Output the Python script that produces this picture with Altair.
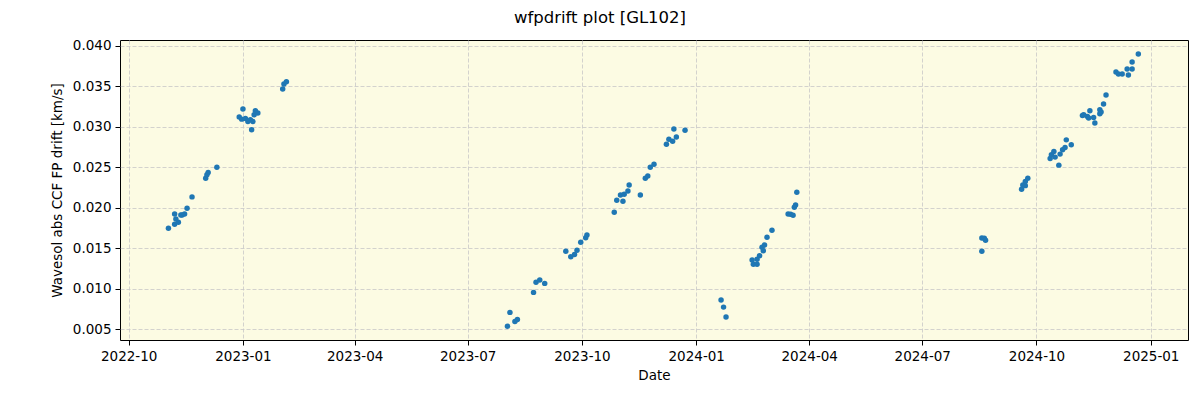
import altair as alt
import pandas as pd

dates = [
    "2022-11-02", "2022-11-07", "2022-11-07", "2022-11-08", "2022-11-10", "2022-11-12",
    "2022-11-13", "2022-11-15", "2022-11-17", "2022-11-21", "2022-12-02", "2022-12-03",
    "2022-12-04", "2022-12-11",
    "2022-12-29", "2022-12-31", "2023-01-01", "2023-01-03", "2023-01-05", "2023-01-07",
    "2023-01-08", "2023-01-09", "2023-01-10", "2023-01-11", "2023-01-13",
    "2023-02-02", "2023-02-03", "2023-02-05",
    "2023-08-02", "2023-08-04", "2023-08-08", "2023-08-10", "2023-08-23", "2023-08-25",
    "2023-08-28", "2023-09-01", "2023-09-18", "2023-09-22", "2023-09-25", "2023-09-27",
    "2023-09-30", "2023-10-04", "2023-10-05", "2023-10-27", "2023-10-29", "2023-11-01",
    "2023-11-03", "2023-11-04", "2023-11-07", "2023-11-08", "2023-11-17", "2023-11-21",
    "2023-11-23", "2023-11-25", "2023-11-28", "2023-12-08", "2023-12-10", "2023-12-13",
    "2023-12-14", "2023-12-16", "2023-12-23",
    "2024-01-21", "2024-01-23", "2024-01-25", "2024-02-15", "2024-02-16", "2024-02-19",
    "2024-02-19", "2024-02-21", "2024-02-23", "2024-02-24", "2024-02-25", "2024-02-27",
    "2024-03-02", "2024-03-15", "2024-03-17", "2024-03-19", "2024-03-20", "2024-03-21",
    "2024-03-22",
    "2024-08-18", "2024-08-18", "2024-08-20", "2024-08-21", "2024-09-19", "2024-09-20",
    "2024-09-22", "2024-09-22", "2024-09-24", "2024-10-12", "2024-10-13", "2024-10-15",
    "2024-10-16", "2024-10-19", "2024-10-20", "2024-10-22", "2024-10-24", "2024-10-25",
    "2024-10-29", "2024-11-07", "2024-11-08", "2024-11-11", "2024-11-12", "2024-11-13",
    "2024-11-16", "2024-11-17", "2024-11-21", "2024-11-21", "2024-11-22", "2024-11-24",
    "2024-11-26", "2024-12-04", "2024-12-06", "2024-12-09", "2024-12-13", "2024-12-14",
    "2024-12-17", "2024-12-17", "2024-12-22",
]
drift = [
    0.01745, 0.01922, 0.01795, 0.01860, 0.01820, 0.01910,
    0.01910, 0.01922, 0.01993, 0.02133, 0.02364, 0.02405,
    0.02433, 0.02500,
    0.03118, 0.03093, 0.03217, 0.03101, 0.03064, 0.03085,
    0.02961, 0.03064, 0.03147, 0.03196, 0.03168,
    0.03464, 0.03526, 0.03555,
    0.00537, 0.00707, 0.00595, 0.00620, 0.00954, 0.01078,
    0.01106, 0.01065, 0.01461, 0.01394, 0.01423, 0.01473,
    0.01572, 0.01629, 0.01663, 0.01943, 0.02092, 0.02157,
    0.02079, 0.02166, 0.02207, 0.02281, 0.02157, 0.02364,
    0.02392, 0.02500, 0.02537, 0.02784, 0.02846, 0.02821,
    0.02970, 0.02871, 0.02957,
    0.00859, 0.00772, 0.00649, 0.01354, 0.01300, 0.01300,
    0.01362, 0.01407, 0.01510, 0.01469, 0.01539, 0.01634,
    0.01721, 0.01922, 0.01918, 0.01906, 0.02005, 0.02033,
    0.02190,
    0.01461, 0.01625, 0.01622, 0.01597, 0.02228, 0.02281,
    0.02272, 0.02322, 0.02364, 0.02606, 0.02652, 0.02693,
    0.02624, 0.02525, 0.02661, 0.02714, 0.02742, 0.02837,
    0.02776, 0.03138, 0.03147, 0.03126, 0.03106, 0.03196,
    0.03113, 0.03044, 0.03209, 0.03159, 0.03180, 0.03279,
    0.03390, 0.03675, 0.03650, 0.03650, 0.03712, 0.03638,
    0.03712, 0.03798, 0.03897,
]

x_ticks = [(2022, 10), (2023, 1), (2023, 4), (2023, 7), (2023, 10),
           (2024, 1), (2024, 4), (2024, 7), (2024, 10), (2025, 1)]
y_ticks = [0.005, 0.010, 0.015, 0.020, 0.025, 0.030, 0.035, 0.040]

df = pd.DataFrame({"date": pd.to_datetime(dates), "drift": drift})

FONT = "DejaVu Sans"

x_axis = alt.Axis(
    values=[alt.DateTime(year=y, month=m, date=1) for y, m in x_ticks],
    format="%Y-%m", title="Date", labelFontSize=13.5, titleFontSize=13.5,
    labelFont=FONT, titleFont=FONT, labelColor="black", titleColor="black",
    titleFontWeight="normal", tickColor="black", tickSize=5, labelPadding=4,
    domain=False, gridColor="#c8c8c8", gridDash=[4, 2], gridWidth=0.8,
    labelFlush=False, titlePadding=6,
)
y_axis = alt.Axis(
    values=y_ticks, format=".3f", title="Wavesol abs CCF FP drift [km/s]",
    labelFontSize=13.5, titleFontSize=13.5, labelFont=FONT, titleFont=FONT,
    labelColor="black", titleColor="black", titleFontWeight="normal",
    tickColor="black", tickSize=5, labelPadding=4, domain=False,
    gridColor="#c8c8c8", gridDash=[4, 2], gridWidth=0.8, titlePadding=8,
)

chart = (
    alt.Chart(df)
    .mark_circle(size=30, color="#1f77b4", opacity=1)
    .encode(
        x=alt.X("date:T", axis=x_axis,
                scale=alt.Scale(domain=[alt.DateTime(year=2022, month=9, date=24),
                                        alt.DateTime(year=2025, month=1, date=31)])),
        y=alt.Y("drift:Q", axis=y_axis,
                scale=alt.Scale(domain=[0.00366, 0.0407], nice=False, zero=False)),
    )
    .properties(
        width=1068, height=300,
        autosize=alt.AutoSizeParams(type="none"),
        padding={"left": 120, "top": 40, "right": 12, "bottom": 60},
        background="white",
        title=alt.TitleParams("wfpdrift plot [GL102]", font=FONT, fontSize=16.5,
                              fontWeight="normal", color="black", anchor="middle",
                              dx=-54, offset=12),
    )
    .configure_view(fill="#fcfbe3", stroke="black", strokeWidth=1)
)

chart.save("out.html", embed_options={"renderer": "svg", "actions": False})
